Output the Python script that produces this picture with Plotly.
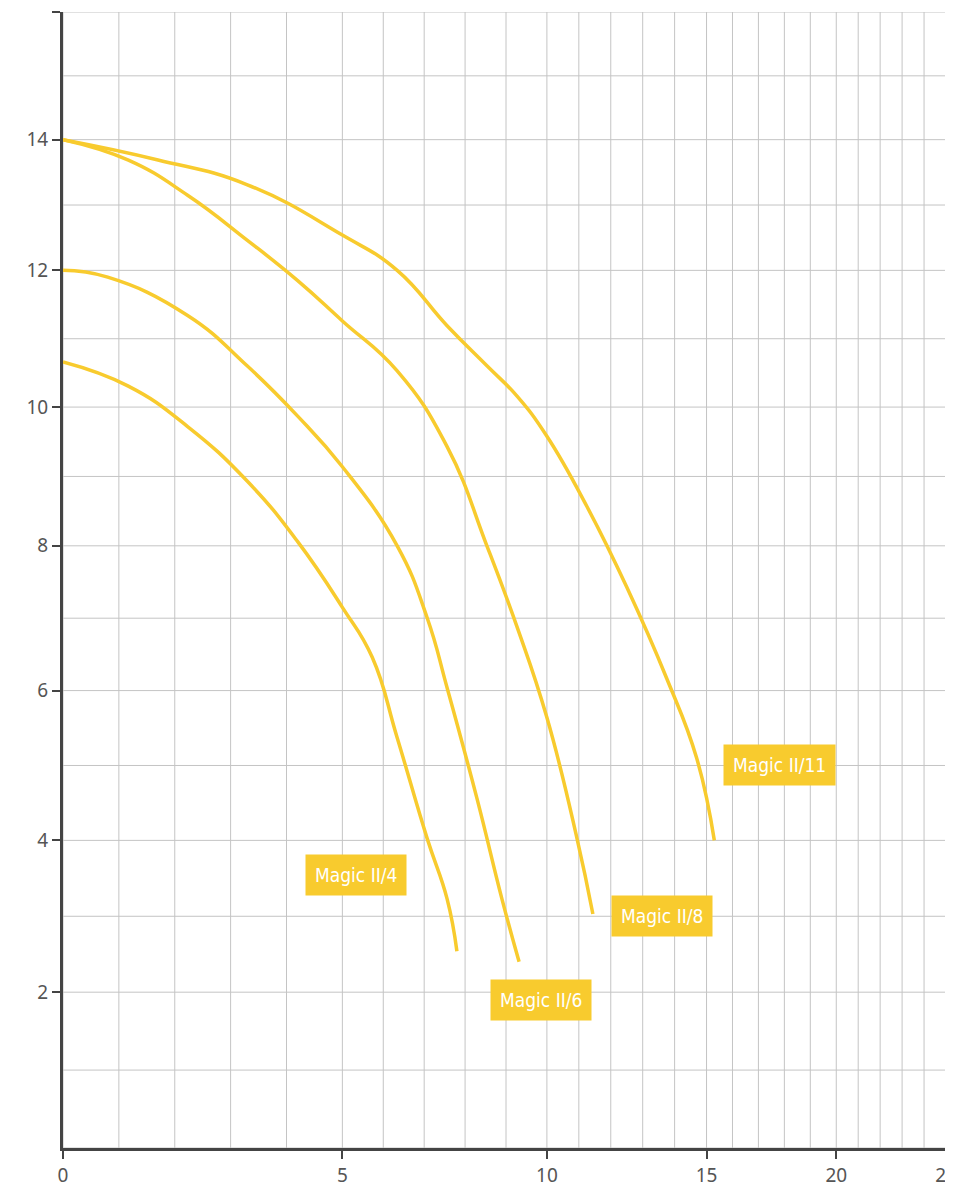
import numpy as np
import plotly.graph_objects as go

# axis calibration (value -> pixel offset) read from the reference's non-uniform grid
X_TICKS = [0, 5, 10, 15, 20, 25]
X_POS = [0, 280, 485, 645, 775, 885]
Y_TICKS = [0, 2, 4, 6, 8, 10, 12, 14, 16]
Y_POS = [0, 155, 306, 455, 599, 737, 873, 1003, 1130]

def tx(v): return np.interp(v, X_TICKS, X_POS)
def ty(v): return np.interp(v, Y_TICKS, Y_POS)

names = ["Magic II/4", "Magic II/6", "Magic II/8", "Magic II/11"]
q4 = [0, 1.16, 2.23, 3.3, 4.2, 5.0, 5.73, 6.34, 7.07, 7.56, 7.8]
h4 = [10.66, 10.31, 9.72, 8.93, 8.06, 7.15, 6.46, 5.37, 4.03, 3.23, 2.54]
q6 = [0, 0.8, 2.23, 3.3, 4.2, 5.0, 6.34, 7.07, 7.56, 8.29, 8.9, 9.32]
h6 = [12.0, 11.9, 11.34, 10.6, 9.87, 9.14, 8.0, 7.01, 6.04, 4.56, 3.23, 2.4]
q8 = [0, 1.16, 2.23, 3.3, 4.2, 5.0, 6.34, 7.56, 8.54, 9.27, 10.0, 10.94, 11.44]
h8 = [14.0, 13.69, 13.15, 12.46, 11.85, 11.26, 10.53, 9.43, 7.99, 6.88, 5.64, 4.03, 3.03]
q11 = [0, 1.7, 3.3, 5.0, 6.34, 7.56, 8.54, 9.27, 10.0, 11.25, 12.5, 13.75, 14.69, 15.3]
h11 = [14.0, 13.69, 13.31, 12.54, 12.0, 11.19, 10.6, 10.16, 9.58, 8.57, 7.43, 6.17, 5.1, 4.0]
label_q = [5.34, 9.85, 13.6, 17.8]
label_h = [3.54, 1.9, 3.0, 5.0]

YEL = "#F8CB2E"
GRID = "#c4c4c4"
fig = go.Figure()

gx, gy = [], []
for v in range(0, 26):
    gx += [tx(v), tx(v), None]; gy += [0, 1130, None]
for v in range(0, 17):
    gx += [0, 885, None]; gy += [ty(v), ty(v), None]
fig.add_trace(go.Scatter(x=gx, y=gy, mode="lines", line=dict(color=GRID, width=1),
                         hoverinfo="skip", showlegend=False))

for q, h in [(q4, h4), (q6, h6), (q8, h8), (q11, h11)]:
    fig.add_trace(go.Scatter(x=tx(q), y=ty(h), mode="lines",
                             line=dict(color=YEL, width=3.5, shape="spline", smoothing=1.3),
                             showlegend=False))

for n, lq, lh in zip(names, label_q, label_h):
    fig.add_annotation(x=float(tx(lq)), y=float(ty(lh)), text=n, showarrow=False, bgcolor=YEL,
                       font=dict(color="white", size=19, family="DejaVu Sans Condensed, Noto Sans"),
                       borderpad=9)

fig.update_layout(
    width=953, height=1200, margin=dict(l=55, r=13, t=4, b=60),
    plot_bgcolor="white", paper_bgcolor="white",
    font=dict(family="Noto Sans, DejaVu Sans", size=19, color="#555"),
    xaxis=dict(range=[0, 885], tickvals=list(tx(X_TICKS)), ticktext=[str(t) for t in X_TICKS],
               showgrid=False, zeroline=False, showline=True, linecolor="#444", linewidth=3,
               ticks="outside", ticklen=8, tickwidth=2, tickcolor="#444"),
    yaxis=dict(range=[0, 1130], tickvals=list(ty(Y_TICKS[1:])), ticktext=[str(t) for t in Y_TICKS[1:]],
               showgrid=False, zeroline=False, showline=True, linecolor="#444", linewidth=3,
               ticks="outside", ticklen=8, tickwidth=2, tickcolor="#444"),
)
fig.write_html("out.html")
